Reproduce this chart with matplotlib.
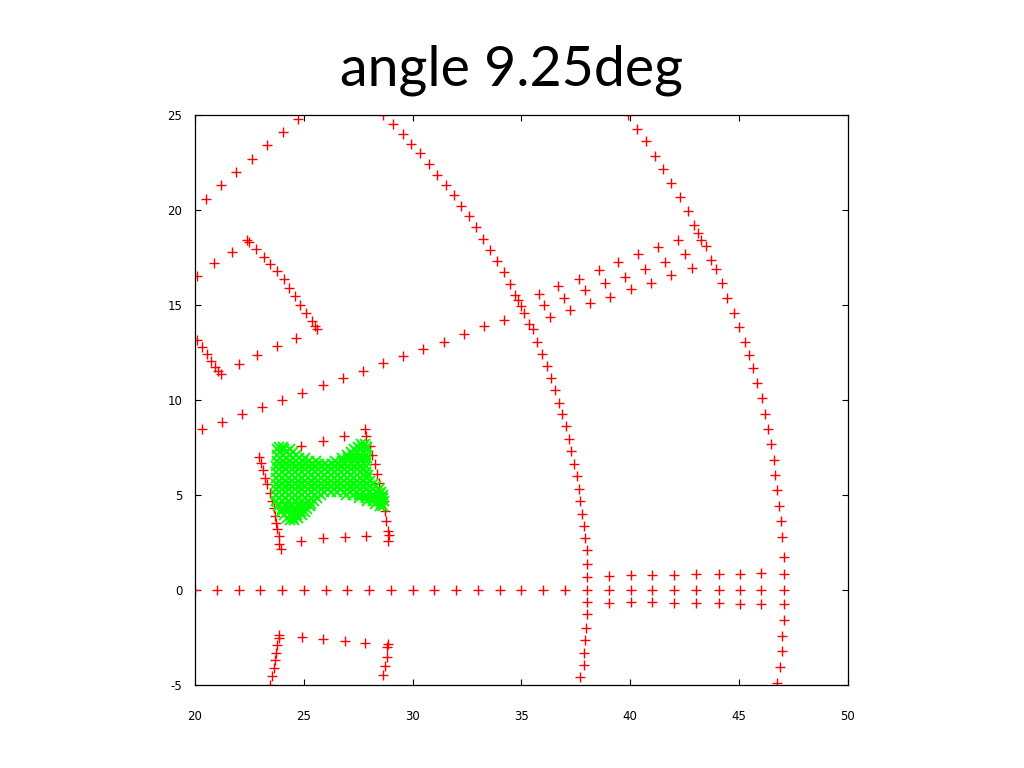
import matplotlib
matplotlib.use("Agg")
import matplotlib.pyplot as plt

plt.rcParams["axes.unicode_minus"] = False

title_text = "angle 9.25deg"
x_ticks = [20, 25, 30, 35, 40, 45, 50]
y_ticks = [-5, 0, 5, 10, 15, 20, 25]

# ---- red '+' structures ----
axis_line_x = [20, 21, 22, 23, 24, 25, 26, 27, 28, 29, 30, 31, 32, 33, 34, 35, 36, 37]
axis_line_y = [0, 0, 0, 0, 0, 0, 0, 0, 0, 0, 0, 0, 0, 0, 0, 0, 0, 0]

grid_x = [39.00, 40.05, 41.01, 42.03, 43.04, 44.06, 45.02, 45.99]
grid_top_y = [0.75, 0.77, 0.77, 0.77, 0.83, 0.83, 0.83, 0.88]
grid_mid_y = [0.0, 0.0, 0.0, 0.0, 0.0, 0.0, 0.0, 0.0]
grid_bot_y = [-0.67, -0.63, -0.63, -0.70, -0.67, -0.67, -0.75, -0.75]

inner_arc_x = [28.65, 29.09, 29.54, 29.92, 30.34, 30.74, 31.12, 31.52, 31.89, 32.24,
               32.61, 32.90, 33.24, 33.56, 33.88, 34.18, 34.48, 34.72, 34.86, 35.00,
               35.13, 35.36, 35.52, 35.71, 35.94, 36.16, 36.35, 36.53, 36.74, 36.88,
               37.04, 37.18, 37.29, 37.42, 37.57, 37.66, 37.71, 37.80, 37.87, 37.93,
               37.99, 38.00, 38.00, 38.00, 38.00, 38.00, 37.97, 37.94, 37.89, 37.85, 37.70]
inner_arc_y = [24.98, 24.51, 23.98, 23.49, 22.98, 22.42, 21.84, 21.32, 20.79, 20.23,
               19.67, 19.12, 18.47, 17.89, 17.34, 16.74, 16.12, 15.55, 15.24, 14.94,
               14.59, 14.01, 13.71, 13.05, 12.44, 11.79, 11.16, 10.53, 9.86, 9.26,
               8.62, 7.96, 7.30, 6.65, 6.00, 5.33, 4.68, 4.01, 3.35, 2.72,
               2.08, 1.35, 0.70, 0.00, -0.63, -1.28, -1.98, -2.63, -3.30, -3.95, -4.58]

outer_arc_x = [39.89, 40.32, 40.72, 41.15, 41.51, 41.89, 42.30, 42.66, 42.94, 43.12,
               43.27, 43.49, 43.73, 43.93, 44.21, 44.46, 44.76, 44.99, 45.27, 45.45,
               45.65, 45.84, 46.04, 46.18, 46.31, 46.47, 46.58, 46.67, 46.76, 46.85,
               46.91, 46.97, 47.04, 47.04, 47.07, 47.04, 47.04, 46.99, 46.96, 46.88, 46.76]
outer_arc_y = [24.98, 24.28, 23.62, 22.86, 22.14, 21.41, 20.68, 19.93, 19.23, 18.81,
               18.43, 18.08, 17.35, 16.91, 16.16, 15.38, 14.59, 13.86, 13.03, 12.38,
               11.70, 10.91, 10.09, 9.28, 8.49, 7.67, 6.86, 6.04, 5.25, 4.41,
               3.62, 2.80, 1.74, 0.86, 0.00, -0.75, -1.59, -2.42, -3.21, -4.05, -4.88]

diag_x = [20.51, 21.20, 21.90, 22.61, 23.32, 24.06, 24.73]
diag_y = [20.56, 21.30, 22.02, 22.70, 23.42, 24.11, 24.81]

wedge_x = [20.08, 20.89, 21.69, 22.41, 22.50, 22.82, 23.15, 23.44, 23.76, 24.07,
           24.30, 24.59, 24.84, 25.12, 25.38, 25.50, 25.61]
wedge_y = [16.53, 17.19, 17.81, 18.42, 18.32, 17.93, 17.54, 17.16, 16.77, 16.35,
           15.89, 15.47, 15.00, 14.59, 14.16, 13.89, 13.75]

short_x = [20.08, 20.31, 20.54, 20.74, 20.92, 21.07, 21.18]
short_y = [13.14, 12.79, 12.41, 12.05, 11.74, 11.53, 11.38]

seg_b_x = [22.00, 22.87, 23.76, 24.65]
seg_b_y = [11.91, 12.35, 12.84, 13.28]

band_mid_x = [20.31, 21.26, 22.18, 23.07, 24.01, 24.94, 25.87, 26.81, 27.73, 28.63,
              29.55, 30.48, 31.43, 32.34, 33.29, 34.18, 36.05, 36.97, 37.93, 38.85,
              39.74, 40.66, 41.60, 42.53]
band_mid_y = [8.46, 8.86, 9.25, 9.63, 10.00, 10.38, 10.77, 11.16, 11.54, 11.93,
              12.32, 12.68, 13.06, 13.46, 13.88, 14.19, 14.98, 15.35, 15.77, 16.17,
              16.49, 16.88, 17.28, 17.70]
band_up_x = [35.82, 36.70, 37.62, 38.54, 39.43, 40.37, 41.29, 42.21]
band_up_y = [15.59, 16.00, 16.38, 16.83, 17.26, 17.67, 18.05, 18.42]
band_lo_x = [36.30, 37.24, 38.16, 39.09, 40.05, 40.97, 41.89, 42.83]
band_lo_y = [14.37, 14.72, 15.11, 15.42, 15.83, 16.17, 16.56, 16.96]

rect_left_x = [22.92, 23.03, 23.12, 23.23, 23.30, 23.46, 23.53, 23.61, 23.69, 23.73, 23.79, 23.84, 23.88, 23.95]
rect_left_y = [7.00, 6.70, 6.30, 5.91, 5.56, 5.12, 4.68, 4.30, 3.89, 3.54, 3.19, 2.84, 2.44, 2.14]
rect_right_x = [27.79, 27.88, 28.03, 28.14, 28.26, 28.34, 28.47, 28.60, 28.68, 28.72, 28.79, 28.86, 28.91, 28.86]
rect_right_y = [8.46, 8.11, 7.58, 7.09, 6.62, 6.12, 5.65, 5.12, 4.68, 4.16, 3.63, 3.11, 2.89, 2.58]
rect_top_x = [23.95, 24.88, 25.87, 26.83]
rect_top_y = [7.35, 7.58, 7.84, 8.11]
rect_bot_x = [24.88, 25.87, 26.87, 27.85]
rect_bot_y = [2.58, 2.72, 2.79, 2.84]

low_left_x = [23.88, 23.84, 23.79, 23.73, 23.69, 23.61, 23.53, 23.46]
low_left_y = [-2.37, -2.51, -2.91, -3.30, -3.70, -4.12, -4.53, -5.00]
low_top_x = [24.92, 25.88, 26.87, 27.83]
low_top_y = [-2.46, -2.56, -2.68, -2.81]
low_right_x = [28.86, 28.83, 28.80, 28.72, 28.62]
low_right_y = [-2.86, -3.00, -3.53, -4.00, -4.49]

# ---- green 'x' cloud (rows of estimated positions) ----
cloud_row_y = [7.70, 7.55, 7.40, 7.25, 7.10, 6.95, 6.80, 6.65, 6.50, 6.35, 6.20, 6.05,
               5.90, 5.75, 5.60, 5.45, 5.30, 5.15, 5.00, 4.85, 4.70, 4.55, 4.40, 4.25,
               4.10, 3.95, 3.80, 3.68]
cloud_row_x = [
    [27.62, 27.80],
    [23.85, 24.05, 27.48, 27.72, 27.90],
    [23.78, 24.08, 24.38, 27.30, 27.58, 27.84],
    [23.90, 24.20, 24.50, 27.15, 27.45, 27.75],
    [23.75, 24.05, 24.35, 24.65, 26.98, 27.28, 27.58, 27.88],
    [23.90, 24.20, 24.50, 24.80, 25.05, 26.75, 27.05, 27.35, 27.65, 27.90],
    [23.75, 24.05, 24.35, 24.65, 24.95, 25.25, 25.55, 26.45, 26.75, 27.05, 27.35, 27.65, 27.88],
    [23.88, 24.18, 24.48, 24.78, 25.08, 25.38, 25.68, 25.98, 26.28, 26.58, 26.88, 27.18, 27.48, 27.78],
    [23.72, 24.02, 24.32, 24.62, 24.92, 25.22, 25.52, 25.82, 26.12, 26.42, 26.72, 27.02, 27.32, 27.62, 27.86],
    [23.86, 24.16, 24.46, 24.76, 25.06, 25.36, 25.66, 25.96, 26.26, 26.56, 26.86, 27.16, 27.46, 27.76],
    [23.70, 24.00, 24.30, 24.60, 24.90, 25.20, 25.50, 25.80, 26.10, 26.40, 26.70, 27.00, 27.30, 27.60, 27.88],
    [23.85, 24.15, 24.45, 24.75, 25.05, 25.35, 25.65, 25.95, 26.25, 26.55, 26.85, 27.15, 27.45, 27.75, 27.95],
    [23.70, 24.00, 24.30, 24.60, 24.90, 25.20, 25.50, 25.80, 26.10, 26.40, 26.70, 27.00, 27.30, 27.60, 27.92],
    [23.84, 24.14, 24.44, 24.74, 25.04, 25.34, 25.64, 25.94, 26.24, 26.54, 26.84, 27.14, 27.44, 27.74, 28.04],
    [23.70, 24.00, 24.30, 24.60, 24.90, 25.20, 25.50, 25.80, 26.10, 26.40, 26.70, 27.00, 27.30, 27.60, 27.90, 28.18],
    [23.84, 24.14, 24.44, 24.74, 25.04, 25.34, 25.64, 25.94, 26.24, 26.54, 26.84, 27.14, 27.44, 27.74, 28.04, 28.32],
    [23.70, 24.00, 24.30, 24.60, 24.90, 25.20, 25.50, 25.80, 26.10, 26.40, 26.70, 27.00, 27.30, 27.60, 27.90, 28.20, 28.45],
    [23.84, 24.14, 24.44, 24.74, 25.04, 25.34, 25.64, 25.94, 26.24, 26.54, 26.84, 27.14, 27.44, 27.74, 28.04, 28.34, 28.54],
    [23.70, 24.00, 24.30, 24.60, 24.90, 25.20, 25.50, 25.80, 26.95, 27.25, 27.55, 27.85, 28.15, 28.45, 28.62],
    [23.85, 24.15, 24.45, 24.75, 25.05, 25.35, 25.60, 27.55, 27.85, 28.15, 28.45, 28.66],
    [23.72, 24.02, 24.32, 24.62, 24.92, 25.22, 25.48, 27.90, 28.20, 28.50, 28.70],
    [23.88, 24.18, 24.48, 24.78, 25.08, 25.35, 28.25, 28.55],
    [23.82, 24.12, 24.42, 24.72, 25.02, 25.28, 28.50, 28.66],
    [23.98, 24.28, 24.58, 24.88, 25.15],
    [23.95, 24.25, 24.55, 24.85, 25.05],
    [24.10, 24.40, 24.70, 24.90],
    [24.22, 24.50, 24.75],
    [24.35, 24.55],
]

red_sets = [
    (axis_line_x, axis_line_y),
    (grid_x, grid_top_y), (grid_x, grid_mid_y), (grid_x, grid_bot_y),
    (inner_arc_x, inner_arc_y), (outer_arc_x, outer_arc_y),
    (diag_x, diag_y), (wedge_x, wedge_y), (short_x, short_y), (seg_b_x, seg_b_y),
    (band_mid_x, band_mid_y), (band_up_x, band_up_y), (band_lo_x, band_lo_y),
    (rect_left_x, rect_left_y), (rect_right_x, rect_right_y),
    (rect_top_x, rect_top_y), (rect_bot_x, rect_bot_y),
    (low_left_x, low_left_y), (low_top_x, low_top_y), (low_right_x, low_right_y),
]

fig = plt.figure(figsize=(10.24, 7.68), dpi=100)
fig.patch.set_facecolor("white")
ax = fig.add_axes([0.1904, 0.1081, 0.6377, 0.7422])

for xs, ys in red_sets:
    ax.plot(xs, ys, linestyle="none", marker="+", color="#ff0000",
            markersize=7, markeredgewidth=1.0)

gx, gy = [], []
for yv, row in zip(cloud_row_y, cloud_row_x):
    for xv in row:
        gx.append(xv)
        gy.append(yv)
ax.plot(gx, gy, linestyle="none", marker="x", color="#00ff00",
        markersize=7.5, markeredgewidth=1.4)

ax.set_xlim(20, 50)
ax.set_ylim(-5, 25)
ax.set_xticks(x_ticks)
ax.set_yticks(y_ticks)
ax.tick_params(direction="in", length=4, width=0.8, top=True, right=True,
               labelsize=8.5, colors="black")
ax.tick_params(axis="x", pad=18)
ax.tick_params(axis="y", pad=9)
for s in ax.spines.values():
    s.set_linewidth(0.9)
    s.set_color("black")

fig.text(0.5, 0.909, title_text, ha="center", va="center",
         fontsize=40, family=["Lato", "DejaVu Sans"], color="black")

fig.savefig("out.png", dpi=100, facecolor="white")
